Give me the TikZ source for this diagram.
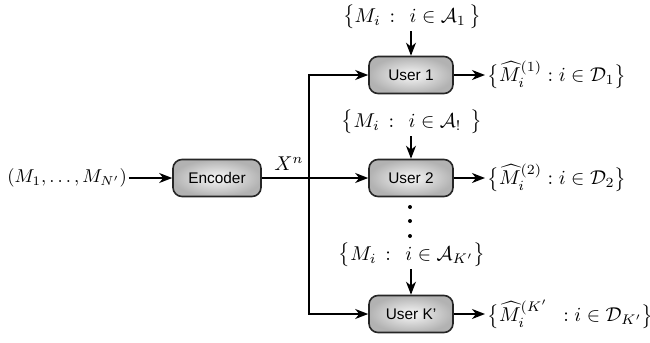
\documentclass[tikz,border=0pt]{standalone}
\usepackage{fontspec}
\newfontfamily\boxfont{Liberation Sans}
\usetikzlibrary{arrows.meta,shadings}
\begin{document}
\begin{tikzpicture}[x=0.5pt,y=-0.5pt,
  blk/.style={draw=black!85, line width=0.8pt, rounded corners=4.5pt,
    shading=radial, inner color=gray!6, outer color=gray!60,
    minimum height=18.5pt, inner sep=0pt,
    font=\boxfont\fontsize{7.7}{9.2}\selectfont},
  arr/.style={-{Stealth[length=6.5pt,width=5pt,inset=2pt]}, line width=0.8pt},
  lbl/.style={inner sep=1pt}]
\useasboundingbox (0,0) rectangle (650,343);
% source and encoder
\node[lbl, anchor=east, scale=0.93, transform shape] (src) at (129,178) {$(M_1,\ldots,M_{N'})$};
\node[blk, minimum width=44pt] (enc) at (217,178) {Encoder};
% users
\node[blk, minimum width=42pt] (u1) at (411,75) {User 1};
\node[blk, minimum width=42pt] (u2) at (411,178) {User 2};
\node[blk, minimum width=42pt] (uk) at (411,314) {User K’};
% side information
\node[lbl] (a1) at (412,17) {$\bigl\{M_i\,:\;\,i\in\mathcal{A}_1\,\bigr\}$};
\node[lbl] (a2) at (412,122) {$\bigl\{M_i\,:\;\,i\in\mathcal{A}_!\;\,\bigr\}$};
\node[lbl] (ak) at (412,255) {$\bigl\{M_i\,:\;\,i\in\mathcal{A}_{K'}\bigr\}$};
% outputs
\node[lbl, anchor=west] (o1) at (485,75) {$\bigl\{\widehat{M}_i^{(1)} : i\in\mathcal{D}_1\bigr\}$};
\node[lbl, anchor=west] (o2) at (485,178) {$\bigl\{\widehat{M}_i^{(2)} : i\in\mathcal{D}_2\bigr\}$};
\node[lbl, anchor=west] (ok) at (485,314) {$\bigl\{\widehat{M}_i^{(K'}\ \, : i\in\mathcal{D}_{K'}\bigr\}$};
% X^n label
\node[lbl] (xn) at (289,164) {$X^n$};
% connectors
\draw[arr] (src.east) -- (enc.west);
\draw[arr] (enc.east) -- (u2.west);
\coordinate (vx) at (309,178);
\draw[arr] (vx) |- (u1.west);
\draw[arr] (vx) |- (uk.west);
\draw[arr] (a1.south -| u1.north) -- (u1.north);
\draw[arr] (a2.south -| u2.north) -- (u2.north);
\draw[arr] (ak.south -| uk.north) -- (uk.north);
\draw[arr] (u1.east) -- (o1.west);
\draw[arr] (u2.east) -- (o2.west);
\draw[arr] (uk.east) -- (ok.west);
% vertical dots
\fill (410,207) circle[radius=1pt];
\fill (410,221) circle[radius=1pt];
\fill (410,236) circle[radius=1pt];
\end{tikzpicture}
\end{document}
